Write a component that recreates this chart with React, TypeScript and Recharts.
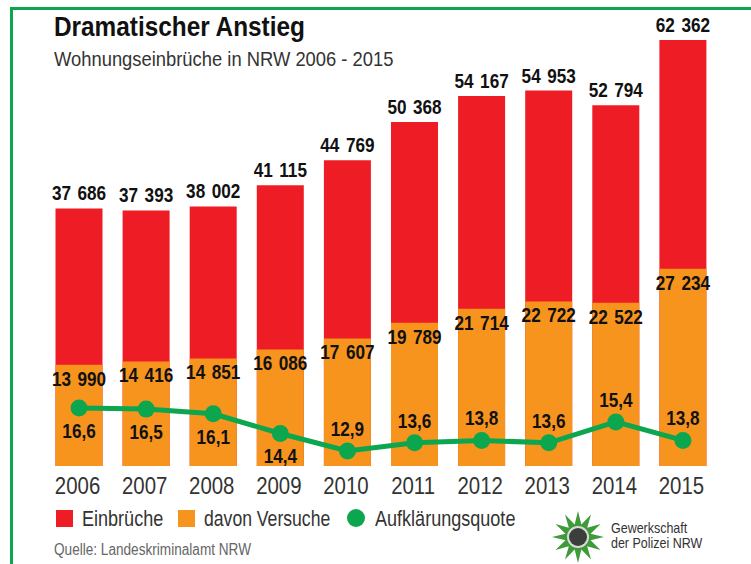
import { Bar, ComposedChart, LabelList, Legend, Line, XAxis, YAxis } from 'recharts';

const years = ['2006', '2007', '2008', '2009', '2010', '2011', '2012', '2013', '2014', '2015'];
const einbrueche = [37686, 37393, 38002, 41115, 44769, 50368, 54167, 54953, 52794, 62362];
const versuche = [13990, 14416, 14851, 16086, 17607, 19789, 21714, 22722, 22522, 27234];
const quote = [16.6, 16.5, 16.1, 14.4, 12.9, 13.6, 13.8, 13.6, 15.4, 13.8];

const RED = '#ee1c25';
const ORANGE = '#f7941e';
const GREEN = '#0ca64e';
const FONT = '"Liberation Sans", sans-serif';

const chartData = years.map((year, i) => ({
  year,
  einbrueche: einbrueche[i],
  versuche: versuche[i],
  quote: quote[i],
}));

const formatThousands = (value: number): string => {
  const s = String(value);
  return `${s.slice(0, -3)} ${s.slice(-3)}`;
};

const formatRate = (value: number): string => value.toFixed(1).replace('.', ',');

// no condensed face installed, so the text gets squeezed horizontally
const BoldLabel = ({ x, y, children }: { x: number; y: number; children: string }) => (
  <text
    transform={`translate(${x},${y}) scale(0.88,1)`}
    textAnchor="middle"
    dominantBaseline="central"
    fontFamily={FONT}
    fontWeight={700}
    fontSize={19.5}
    wordSpacing={2}
    fill="#111"
  >
    {children}
  </text>
);

const TotalLabel = (props: any) => {
  const { x, y, width, value } = props;
  return <BoldLabel x={x + width / 2} y={y - 15}>{formatThousands(value)}</BoldLabel>;
};

const VersucheLabel = (props: any) => {
  const { x, y, width, value } = props;
  return <BoldLabel x={x + width / 2} y={y + 14}>{formatThousands(value)}</BoldLabel>;
};

// first four rate labels sit under the line, the others above it
const RateLabel = (props: any) => {
  const { x, y, value, index } = props;
  return <BoldLabel x={x} y={index < 4 ? y + 23 : y - 22}>{formatRate(value)}</BoldLabel>;
};

const YearTick = (props: any) => {
  const { x, y, payload } = props;
  return (
    <text
      transform={`translate(${x - 1.5},${y + 6}) scale(0.85,1)`}
      textAnchor="middle"
      dominantBaseline="central"
      fontFamily={FONT}
      fontSize={24}
      fill="#333"
    >
      {payload.value}
    </text>
  );
};

const Squeezed = ({ left, top, sx, style, children }: any) => (
  <div
    style={{
      position: 'absolute',
      left,
      top,
      fontFamily: FONT,
      whiteSpace: 'nowrap',
      transform: `scaleX(${sx})`,
      transformOrigin: 'left top',
      ...style,
    }}
  >
    {children}
  </div>
);

const LegendContent = () => (
  <div style={{ position: 'relative', height: 24, color: '#333' }}>
    <span style={{ position: 'absolute', left: 0, top: 3, width: 17, height: 17, background: RED }} />
    <Squeezed left={26} top={-1} sx={0.82} style={{ fontSize: 22 }}>Einbrüche</Squeezed>
    <span style={{ position: 'absolute', left: 122, top: 3, width: 17, height: 17, background: ORANGE }} />
    <Squeezed left={148} top={-1} sx={0.8} style={{ fontSize: 22 }}>davon Versuche</Squeezed>
    <span style={{ position: 'absolute', left: 291, top: 2, width: 18, height: 18, borderRadius: 9, background: GREEN }} />
    <Squeezed left={319} top={-1} sx={0.82} style={{ fontSize: 22 }}>Aufklärungsquote</Squeezed>
  </div>
);

const starPoints = (cx: number, cy: number, rOuter: number, rInner: number, n: number): string => {
  const pts: string[] = [];
  for (let i = 0; i < n * 2; i++) {
    const r = i % 2 === 0 ? rOuter : rInner;
    const a = (Math.PI * i) / n - Math.PI / 2;
    pts.push(`${cx + r * Math.cos(a)},${cy + r * Math.sin(a)}`);
  }
  return pts.join(' ');
};

const GdpLogo = () => (
  <svg width={54} height={54} style={{ position: 'absolute', left: 551, top: 510 }}>
    <polygon points={starPoints(27, 27, 26, 13, 12)} fill="#3f9a3a" />
    <circle cx={27} cy={27} r={11} fill="#d8dcd6" />
    <circle cx={27} cy={27} r={9} fill="#3a3f3c" />
  </svg>
);

export default function App() {
  return (
    <div style={{ position: 'absolute', left: 0, top: 0, width: 751, height: 564, background: '#fff', overflow: 'hidden' }}>
      <div style={{ position: 'absolute', left: 10, top: 7, width: 741, height: 3, background: GREEN }} />
      <div style={{ position: 'absolute', left: 10, top: 7, width: 3, height: 557, background: GREEN }} />

      <ComposedChart
        width={751}
        height={564}
        data={chartData}
        barGap={-47}
        margin={{ top: 40, right: 34.5, bottom: 34, left: 45.5 }}
      >
        <XAxis
          dataKey="year"
          axisLine={false}
          tickLine={false}
          interval={0}
          height={40}
          tickMargin={8}
          tick={<YearTick />}
        />
        <YAxis yAxisId="total" hide domain={[0, 62362]} />
        <YAxis yAxisId="versuche" hide domain={[0, 58800]} />
        <YAxis yAxisId="quote" hide domain={[11.6, 48.3]} />
        <Legend
          content={<LegendContent />}
          wrapperStyle={{ position: 'absolute', left: 56, top: 507, width: 480, height: 24 }}
        />
        <Bar yAxisId="total" dataKey="einbrueche" fill={RED} barSize={47} isAnimationActive={false}>
          <LabelList dataKey="einbrueche" content={<TotalLabel />} />
        </Bar>
        <Bar yAxisId="versuche" dataKey="versuche" fill={ORANGE} barSize={47} isAnimationActive={false}>
          <LabelList dataKey="versuche" content={<VersucheLabel />} />
        </Bar>
        <Line
          yAxisId="quote"
          dataKey="quote"
          stroke={GREEN}
          strokeWidth={5}
          dot={{ r: 8.5, fill: GREEN, stroke: GREEN, strokeWidth: 0 }}
          isAnimationActive={false}
        >
          <LabelList dataKey="quote" content={<RateLabel />} />
        </Line>
      </ComposedChart>

      <Squeezed left={54} top={11} sx={0.87} style={{ fontWeight: 700, fontSize: 28, color: '#111' }}>
        Dramatischer Anstieg
      </Squeezed>
      <Squeezed left={54} top={47} sx={0.875} style={{ fontSize: 21, color: '#333' }}>
        Wohnungseinbrüche in NRW 2006 - 2015
      </Squeezed>
      <Squeezed left={54} top={541} sx={0.85} style={{ fontSize: 16, color: '#666' }}>
        Quelle: Landeskriminalamt NRW
      </Squeezed>

      <GdpLogo />
      <Squeezed left={611} top={521} sx={0.86} style={{ fontSize: 14.5, lineHeight: '15px', color: '#333' }}>
        Gewerkschaft
        <br />
        der Polizei NRW
      </Squeezed>
    </div>
  );
}
